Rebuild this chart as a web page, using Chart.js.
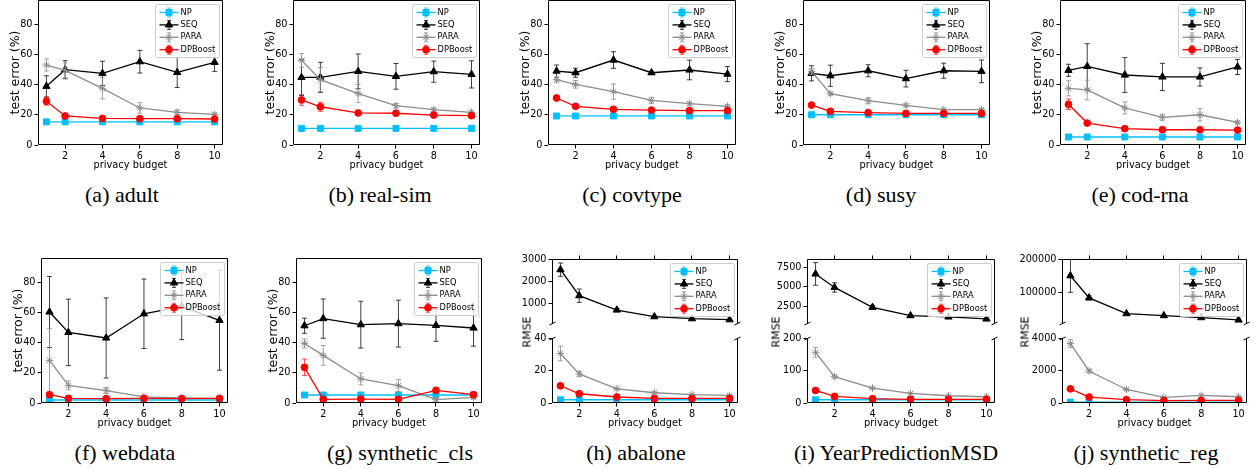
<!DOCTYPE html>
<html>
<head>
<meta charset="utf-8">
<script src="https://cdn.jsdelivr.net/npm/chart.js@4.4.0/dist/chart.umd.min.js"></script>
<style>
body { margin: 0; width: 1255px; height: 469px; position: relative; overflow: hidden; background: #fff; }
canvas { position: absolute; }
.cap { position: absolute; font-family: "Liberation Serif", "Times New Roman", serif; font-size: 22px; white-space: nowrap; transform: translate(-50%, -50%); color: #000; }
.ylab { position: absolute; font-family: "DejaVu Sans", sans-serif; font-size: 11px; white-space: nowrap; transform: translate(-50%, -50%) rotate(-90deg); color: #000; }
</style>
</head>
<body>
<script>
var X = [1, 2, 4, 6, 8, 10];
var X_TICKS = [2, 4, 6, 8, 10];
var SERIES = ['NP', 'SEQ', 'PARA', 'DPBoost'];
var COLORS = ['#00bfff', '#000000', '#8c8c8c', '#ff0000'];
var ERR_COLORS = ['rgba(0,191,255,0.8)', 'rgba(0,0,0,0.75)', 'rgba(140,140,140,0.8)', 'rgba(255,0,0,0.7)'];
var MARKERS = ['rect', 'triangle', 'star', 'circle'];
var SIZES = [4.2, 4.2, 3.8, 3.4];

var CLS_TICKS = [0, 20, 40, 60, 80];

// classification: test error (%), rows = NP, SEQ, PARA, DPBoost
var adultVals = [
  [15.3, 15.3, 15.3, 15.3, 15.3, 15.3],
  [38.8, 49.8, 47.4, 55.1, 48.0, 54.7],
  [52.9, 49.4, 37.5, 24.5, 21.6, 20.2],
  [28.9, 19.2, 17.6, 17.4, 17.4, 17.2]
];
var adultErr = [
  [0, 0, 0, 0, 0, 0],
  [7, 6, 8, 7.5, 10, 6],
  [4, 5, 7, 3.5, 1.5, 1],
  [2.5, 1, 0.8, 0.5, 0.5, 0.5]
];

var realsimVals = [
  [11, 11, 11, 11, 11, 11],
  [44.7, 44.7, 48.7, 45.4, 48.5, 46.7],
  [56, 43.2, 34, 26, 23.4, 21.6],
  [29.8, 25.3, 21.2, 21, 19.8, 19.4]
];
var realsimErr = [
  [0, 0, 0, 0, 0, 0],
  [12, 10, 11.5, 8.5, 7, 9],
  [4.5, 8, 6, 1.5, 1, 1],
  [3.5, 3, 1, 0.8, 0.5, 0.5]
];

var covtypeVals = [
  [19.2, 19.2, 19.2, 19.2, 19.2, 19.2],
  [48.9, 47.8, 56.2, 47.8, 49.6, 46.9],
  [43.2, 40.1, 35.3, 29.5, 27.3, 25.6],
  [31.1, 25.6, 23.6, 23.1, 22.7, 22.7]
];
var covtypeErr = [
  [0, 0, 0, 0, 0, 0],
  [4, 3, 5.5, 1, 6.5, 5],
  [1.5, 2.5, 5, 2, 1, 1],
  [1, 0.8, 0.5, 0.5, 0.5, 0.5]
];

var susyVals = [
  [20, 20, 20, 20, 20, 20],
  [47.4, 45.8, 49.1, 43.9, 49.1, 48.7],
  [48.7, 33.9, 29.3, 26.2, 23.4, 23.4],
  [26.4, 22.3, 21.4, 20.9, 20.9, 20.9]
];
var susyErr = [
  [0, 0, 0, 0, 0, 0],
  [5, 7, 4, 5.5, 5, 7.5],
  [2, 1, 2, 1, 0.5, 0.5],
  [1, 0.5, 0.5, 0.5, 0.5, 0.5]
];

var codrnaVals = [
  [5.3, 5.3, 5.3, 5.3, 5.3, 5.3],
  [49.4, 52, 46.3, 45, 45, 51.6],
  [37.5, 36.4, 24.5, 18.3, 20, 15],
  [26.9, 14.5, 10.8, 10.1, 10.1, 9.9]
];
var codrnaErr = [
  [0, 0, 0, 0, 0, 0],
  [4, 15, 11.5, 9, 6, 5],
  [5, 6.5, 4, 2, 4, 1],
  [3.5, 1, 0.5, 0.5, 0.5, 0.5]
];

var webdataVals = [
  [2, 2, 2, 2, 2, 2],
  [60.2, 46.7, 43, 59, 63.9, 54.7],
  [28.2, 11.7, 8.2, 4, 3.3, 2.9],
  [5.5, 3.1, 2.9, 3.1, 2.9, 3.1]
];
var webdataErr = [
  [0, 0, 0, 0, 0, 0],
  [23.5, 22, 26.5, 23, 22, 33],
  [21, 3, 2, 0.5, 0.5, 0.5],
  [1, 0.5, 0.5, 0.5, 0.5, 0.5]
];

var synclsVals = [
  [5.3, 5.3, 5.3, 5.3, 5.3, 5.3],
  [51.1, 55.8, 51.8, 52.5, 51.3, 49.6],
  [39.4, 31.5, 15.9, 11.5, 2.2, 3.7],
  [23.6, 2.4, 2.6, 2.4, 8.4, 5.5]
];
var synclsErr = [
  [0, 0, 0, 0, 0, 0],
  [5, 13, 15.5, 15.5, 10.5, 12],
  [3, 6.5, 4, 4, 1, 1],
  [5.5, 0.5, 0.5, 0.5, 1, 1]
];

// regression: RMSE
var abaloneVals = [
  [2, 2, 2, 2, 2, 2],
  [2519, 1346, 700, 400, 308, 263],
  [30.5, 17.9, 8.7, 6.3, 5.1, 4.7],
  [10.6, 5.7, 3.7, 2.8, 2.8, 2.8]
];
var abaloneErr = [
  [0, 0, 0, 0, 0, 0],
  [300, 300, 70, 30, 20, 20],
  [4.5, 1.5, 0.5, 0.5, 0.3, 0.3],
  [0.5, 0.5, 0.3, 0.3, 0.3, 0.3]
];
var abaloneUpTicks = [1000, 2000, 3000];
var abaloneLowTicks = [0, 20, 40];

var msdVals = [
  [10, 10, 10, 10, 10, 10],
  [6645, 4915, 2372, 1303, 1132, 876],
  [156, 81, 45.7, 29.4, 22.3, 19.3],
  [38.6, 20.3, 13.2, 11.2, 11.2, 11.2]
];
var msdErr = [
  [0, 0, 0, 0, 0, 0],
  [1450, 600, 200, 100, 80, 60],
  [15, 4, 2, 1, 1, 1],
  [2, 1, 0.5, 0.5, 0.5, 0.5]
];
var msdUpTicks = [2500, 5000, 7500];
var msdLowTicks = [0, 100, 200];

var synregVals = [
  [60, 60, 60, 60, 60, 60],
  [149500, 82800, 35300, 29300, 23200, 16200],
  [3655, 1970, 832, 345, 467, 386],
  [873, 365, 203, 142, 162, 162]
];
var synregErr = [
  [0, 0, 0, 0, 0, 0],
  [50000, 6000, 2000, 2000, 1500, 1500],
  [250, 80, 40, 20, 20, 20],
  [40, 20, 10, 10, 10, 10]
];
var synregUpTicks = [100000, 200000];
var synregLowTicks = [0, 2000, 4000];

// which series each half of a broken axis carries
var UPPER_SHOW = [false, true, false, false];
var LOWER_SHOW = [true, false, true, true];

Chart.defaults.font.family = 'DejaVu Sans';
Chart.defaults.color = '#000';
Chart.defaults.animation = false;

function drawLegend(chart) {
  var ctx = chart.ctx, a = chart.chartArea;
  var w = 64, h = 53;
  var x0 = a.right - 3.5 - w, y0 = a.top + 4.5;
  ctx.save();
  ctx.beginPath();
  if (ctx.roundRect) ctx.roundRect(x0, y0, w, h, 2); else ctx.rect(x0, y0, w, h);
  ctx.fillStyle = 'rgba(255,255,255,0.8)';
  ctx.fill();
  ctx.strokeStyle = '#cccccc';
  ctx.lineWidth = 1;
  ctx.stroke();
  chart.data.datasets.forEach(function (ds, i) {
    var cy = y0 + 8 + i * 12.4;
    var mx = x0 + 13.5;
    ctx.strokeStyle = ds.borderColor;
    ctx.fillStyle = ds.borderColor;
    ctx.lineWidth = 1.3;
    ctx.beginPath();
    ctx.moveTo(x0 + 4, cy); ctx.lineTo(x0 + 23, cy);
    ctx.stroke();
    ctx.strokeStyle = ERR_COLORS[i];
    ctx.lineWidth = 1;
    ctx.beginPath();
    ctx.moveTo(mx, cy - 4.5); ctx.lineTo(mx, cy + 4.5);
    ctx.moveTo(mx - 2, cy - 4.5); ctx.lineTo(mx + 2, cy - 4.5);
    ctx.moveTo(mx - 2, cy + 4.5); ctx.lineTo(mx + 2, cy + 4.5);
    ctx.stroke();
    ctx.strokeStyle = ds.borderColor;
    Chart.helpers.drawPoint(ctx, { pointStyle: ds.pointStyle, radius: ds.pointRadius, borderWidth: 1, rotation: 0 }, mx, cy);
    ctx.fillStyle = '#000';
    ctx.font = '8.3px "DejaVu Sans"';
    ctx.textBaseline = 'middle';
    ctx.textAlign = 'left';
    ctx.fillText(ds.label, x0 + 25, cy);
  });
  ctx.restore();
}

var mpl = {
  id: 'mpl',
  beforeDatasetDraw: function (chart, args) {
    var ds = chart.data.datasets[args.index];
    var ys = chart.scales.y, a = chart.chartArea, ctx = chart.ctx;
    ctx.save();
    ctx.beginPath();
    ctx.rect(a.left, a.top, a.right - a.left, a.bottom - a.top);
    ctx.clip();
    ctx.strokeStyle = ERR_COLORS[args.index];
    ctx.lineWidth = 1;
    ctx.beginPath();
    args.meta.data.forEach(function (pt, k) {
      var e = ds.errs[k];
      if (!e) return;
      var v = ds.data[k].y;
      var y1 = ys.getPixelForValue(v - e), y2 = ys.getPixelForValue(v + e);
      ctx.moveTo(pt.x, y1); ctx.lineTo(pt.x, y2);
      ctx.moveTo(pt.x - 2.5, y1); ctx.lineTo(pt.x + 2.5, y1);
      ctx.moveTo(pt.x - 2.5, y2); ctx.lineTo(pt.x + 2.5, y2);
    });
    ctx.stroke();
    ctx.restore();
  },
  afterDatasetsDraw: function (chart, args, opts) {
    var ctx = chart.ctx, a = chart.chartArea;
    var L = a.left + 0.5, R = a.right - 0.5, T = a.top + 0.5, B = a.bottom - 0.5;
    ctx.save();
    ctx.strokeStyle = '#000';
    ctx.lineWidth = 1;
    ctx.beginPath();
    ctx.moveTo(L, T); ctx.lineTo(L, B);
    ctx.moveTo(R, T); ctx.lineTo(R, B);
    if (opts.kind !== 'lower') { ctx.moveTo(L, T); ctx.lineTo(R, T); }
    if (opts.kind !== 'upper') { ctx.moveTo(L, B); ctx.lineTo(R, B); }
    if (opts.kind !== 'full') {
      var y = opts.kind === 'upper' ? B : T;
      [L, R].forEach(function (x) { ctx.moveTo(x - 3, y + 1.5); ctx.lineTo(x + 3, y - 1.5); });
    }
    ctx.stroke();
    ctx.restore();
    if (opts.legend) drawLegend(chart);
  }
};

function addCanvas(left, top, w, h) {
  var c = document.createElement('canvas');
  c.width = w; c.height = h;
  c.style.left = left + 'px'; c.style.top = top + 'px';
  c.style.width = w + 'px'; c.style.height = h + 'px';
  document.body.appendChild(c);
  return c;
}

function makeChart(o) {
  var upper = o.kind === 'upper';
  var padT = upper ? 3 : 8, topH = upper ? 4 : 0, xH = upper ? 4 : 26, padB = upper ? 6 : 0, padR = 10;
  var w = o.yW + (o.r - o.l) + padR;
  var h = padT + (upper ? topH : 0) + (o.b - o.t) + (upper ? 0 : xH) + padB;
  var cv = addCanvas(o.l - o.yW, o.t - padT - (upper ? topH : 0), w, h);
  var tickFont = { size: 9.7 };
  new Chart(cv, {
    type: 'line',
    data: {
      datasets: SERIES.map(function (name, i) {
        return {
          label: name,
          data: X.map(function (x, k) { return { x: x, y: o.vals[i][k] }; }),
          errs: o.err[i],
          hidden: o.show ? !o.show[i] : false,
          borderColor: COLORS[i],
          backgroundColor: COLORS[i],
          pointBackgroundColor: COLORS[i],
          pointBorderColor: COLORS[i],
          pointStyle: MARKERS[i],
          pointRadius: SIZES[i],
          pointBorderWidth: 1,
          borderWidth: 1.3,
          tension: 0,
          clip: 0,
          order: SERIES.length - i
        };
      })
    },
    options: {
      responsive: false,
      animation: false,
      layout: { padding: { left: 0, top: padT, right: padR, bottom: padB } },
      plugins: {
        legend: { display: false },
        tooltip: { enabled: false },
        mpl: { kind: o.kind, legend: o.legend }
      },
      scales: {
        x: {
          type: 'linear',
          position: upper ? 'top' : 'bottom',
          min: 0.55, max: 10.45,
          afterBuildTicks: function (s) { s.ticks = X_TICKS.map(function (v) { return { value: v }; }); },
          afterFit: function (s) { s.height = xH; s.paddingLeft = 0; s.paddingRight = 0; },
          ticks: { display: !upper, font: tickFont, color: '#000', padding: 2, maxRotation: 0, autoSkip: false },
          grid: { drawOnChartArea: false, drawTicks: true, tickLength: 3.5, color: '#000', lineWidth: 1 },
          border: { display: false },
          title: { display: !upper, text: 'privacy budget', font: { size: 9.8 }, color: '#000', padding: 0 }
        },
        y: {
          type: 'linear',
          min: o.yMin, max: o.yMax,
          afterBuildTicks: function (s) { s.ticks = o.yTicks.map(function (v) { return { value: v }; }); },
          afterFit: function (s) { s.width = o.yW; s.paddingTop = 0; s.paddingBottom = 0; },
          ticks: { font: tickFont, color: '#000', padding: 2, callback: function (v) { return String(v); } },
          grid: { drawOnChartArea: false, drawTicks: true, tickLength: 3.5, color: '#000', lineWidth: 1 },
          border: { display: false },
          title: { display: !!o.yTitle, text: o.yTitle || '', font: { size: 12.5 }, color: '#000', padding: 0 }
        }
      }
    },
    plugins: [mpl]
  });
}

function addText(cls, text, x, y) {
  var d = document.createElement('div');
  d.className = cls;
  d.textContent = text;
  d.style.left = x + 'px';
  d.style.top = y + 'px';
  document.body.appendChild(d);
}

var clsPanels = [
  { vals: adultVals, err: adultErr, l: 38, r: 223, t: 0, b: 145, cap: '(a) adult', cx: 122, cy: 194.5 },
  { vals: realsimVals, err: realsimErr, l: 293, r: 480, t: 0, b: 145, cap: '(b) real-sim', cx: 380, cy: 194.5 },
  { vals: covtypeVals, err: covtypeErr, l: 548, r: 736, t: 0, b: 145, cap: '(c) covtype', cx: 632, cy: 194.5 },
  { vals: susyVals, err: susyErr, l: 803, r: 990, t: 0, b: 145, cap: '(d) susy', cx: 881, cy: 194.5 },
  { vals: codrnaVals, err: codrnaErr, l: 1060, r: 1246, t: 0, b: 145, cap: '(e) cod-rna', cx: 1140, cy: 194.5 },
  { vals: webdataVals, err: webdataErr, l: 41, r: 228, t: 258, b: 403, cap: '(f) webdata', cx: 125, cy: 452.5 },
  { vals: synclsVals, err: synclsErr, l: 296, r: 482, t: 258, b: 403, cap: '(g) synthetic_cls', cx: 400, cy: 452.5 }
];

clsPanels.forEach(function (p) {
  makeChart({ kind: 'full', vals: p.vals, err: p.err, l: p.l, r: p.r, t: p.t, b: p.b,
    yMin: 0, yMax: 95.9, yTicks: CLS_TICKS, yW: 30, yTitle: 'test error (%)', legend: true });
  addText('cap', p.cap, p.cx, p.cy);
});

var regPanels = [
  { vals: abaloneVals, err: abaloneErr, l: 552, r: 738, up: [70, 3000], upTicks: abaloneUpTicks,
    low: [0, 40], lowTicks: abaloneLowTicks, cap: '(h) abalone', cx: 636, rx: 527 },
  { vals: msdVals, err: msdErr, l: 807, r: 995, up: [230, 8560], upTicks: msdUpTicks,
    low: [0, 200], lowTicks: msdLowTicks, cap: '(i) YearPredictionMSD', cx: 896, rx: 776 },
  { vals: synregVals, err: synregErr, l: 1062, r: 1247, up: [4000, 200000], upTicks: synregUpTicks,
    low: [0, 4000], lowTicks: synregLowTicks, cap: '(j) synthetic_reg', cx: 1146, rx: 1025 }
];

regPanels.forEach(function (p) {
  makeChart({ kind: 'upper', vals: p.vals, err: p.err, l: p.l, r: p.r, t: 259, b: 324, show: UPPER_SHOW,
    yMin: p.up[0], yMax: p.up[1], yTicks: p.upTicks, yW: 46, legend: true });
  makeChart({ kind: 'lower', vals: p.vals, err: p.err, l: p.l, r: p.r, t: 338, b: 403, show: LOWER_SHOW,
    yMin: p.low[0], yMax: p.low[1], yTicks: p.lowTicks, yW: 46, legend: false });
  addText('ylab', 'RMSE', p.rx, 331.5);
  addText('cap', p.cap, p.cx, 452.5);
});
</script>
</body>
</html>
